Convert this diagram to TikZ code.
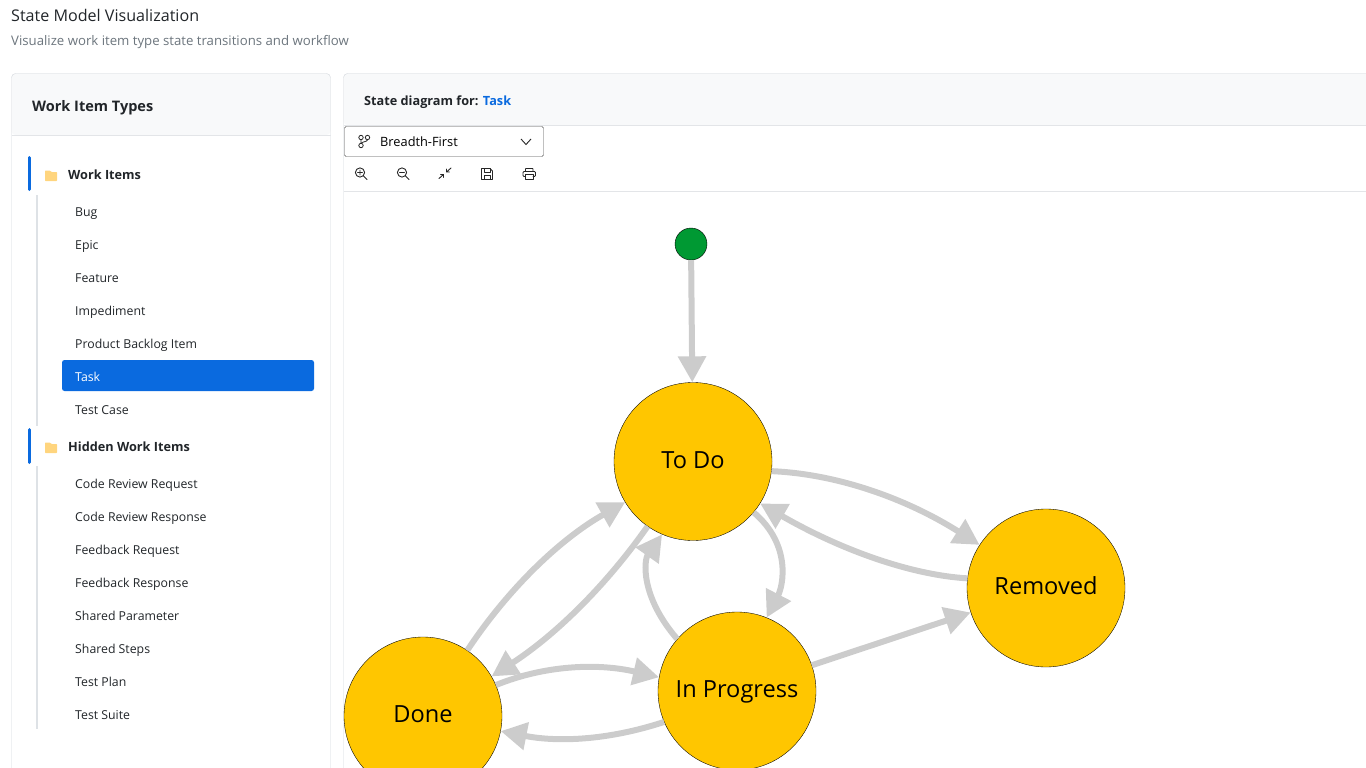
\documentclass[tikz,border=0pt]{standalone}
\usepackage{fontspec}
\setmainfont{Open Sans}
\usetikzlibrary{arrows.meta}
\definecolor{panelline}{HTML}{D3D7DC}
\definecolor{headbg}{HTML}{F8F9FA}
\definecolor{headline}{HTML}{E3E5E8}
\definecolor{accent}{HTML}{0A6ADF}
\definecolor{darktext}{HTML}{212529}
\definecolor{greytext}{HTML}{6C757D}
\definecolor{gold}{HTML}{FFC600}
\definecolor{startgreen}{HTML}{009933}
\definecolor{edgegrey}{HTML}{CCCCCC}
\definecolor{foldercol}{HTML}{FFD57E}
\definecolor{treeline}{HTML}{DEE2E6}
\tikzset{
  state/.style={circle,draw=black,line width=0.35pt,fill=gold,minimum size=158pt,inner sep=0pt,text=black,text height=18pt,text depth=5pt,font=\fontsize{23.6}{28}\selectfont},
  startdot/.style={circle,draw=black,line width=0.4pt,fill=startgreen,minimum size=32pt,inner sep=0pt},
  flow/.style={draw=edgegrey,line width=6pt,-{Triangle[length=26pt,width=27pt]}},
  item/.style={anchor=base west,inner sep=0pt,text=darktext,font=\fontsize{12.3}{14}\selectfont},
  group/.style={anchor=base west,inner sep=0pt,text=darktext,font=\fontsize{12.7}{14}\selectfont\bfseries},
  tool/.style={line width=0.9pt,draw=black!85,line cap=round,line join=round},
  folder/.style={fill=foldercol,draw=none},
  accentbar/.style={line width=3pt,draw=accent,line cap=round},
  tree/.style={line width=2pt,draw=treeline}
}
\begin{document}
\begin{tikzpicture}[x=1pt,y=-1pt]
\useasboundingbox (0,0) rectangle (1366,768);
\clip (0,0) rectangle (1366,768);
% page titles
\node[anchor=base west,inner sep=0pt,text=darktext,font=\fontsize{16.1}{18}\selectfont] (title) at (11,22) {State Model Visualization};
\node[anchor=base west,inner sep=0pt,text=greytext,font=\fontsize{13.2}{15}\selectfont] (subtitle) at (11,45.5) {Visualize work item type state transitions and workflow};
% left panel
\fill[headbg,rounded corners=4pt] (11.5,73.5) rectangle (330.5,135);
\draw[panelline,rounded corners=4pt] (11.5,790) -- (11.5,73.5) -- (330.5,73.5) -- (330.5,790);
\draw[headline] (11.5,135.5) -- (330.5,135.5);
\node[anchor=base west,inner sep=0pt,text=darktext,font=\fontsize{14.5}{18}\selectfont\bfseries] (wit) at (32,111) {Work Item Types};
% right panel
\fill[headbg,rounded corners=4pt] (343.5,73.5) rectangle (1380,125);
\draw[panelline,rounded corners=4pt] (343.5,790) -- (343.5,73.5) -- (1380,73.5);
\draw[headline] (343.5,125.5) -- (1366,125.5);
\draw[headline] (343.5,191.5) -- (1366,191.5);
\node[anchor=base west,inner sep=0pt,text=darktext,font=\fontsize{12.7}{14}\selectfont\bfseries] (sdf) at (364,105) {State diagram for: \textcolor{accent}{Task}};
% dropdown
\draw[draw=black!70,rounded corners=1.5pt,fill=white] (344.5,126.5) rectangle (543.5,156.5);
\node[anchor=base west,inner sep=0pt,text=black,font=\fontsize{12.8}{14}\selectfont] (algo) at (380,146) {Breadth-First};
\draw[black!85,line width=0.8pt] (361,145.5) circle (2.2) (367.5,137.5) circle (2.2) (361,137.5) circle (2.2);
\draw[black!85,line width=0.8pt] (361,139.7) -- (361,143.3) (367.5,139.7) .. controls (367.5,142) and (362,141.5) .. (361.5,143.3);
\draw[black!85,line width=0.9pt] (521,139) -- (526,144.5) -- (531,139);
% toolbar icons
\draw[tool] (360,172.5) circle (4.6) (363.5,176) -- (367,179.5) (357.5,172.5) -- (362.5,172.5) (360,170) -- (360,175);
\draw[tool] (402,172.5) circle (4.6) (405.5,176) -- (409,179.5) (399.5,172.5) -- (404.5,172.5);
\draw[tool] (439,178.5) -- (443.5,174.5) (443.5,174.5) -- (440.5,174.5) (443.5,174.5) -- (443.5,177.5);
\draw[tool] (451,168) -- (446.5,172) (446.5,172) -- (449.5,172) (446.5,172) -- (446.5,169);
\draw[tool] (481.5,168.5) -- (490,168.5) -- (492.5,171) -- (492.5,179.5) -- (481.5,179.5) -- cycle;
\draw[tool] (484,168.5) -- (484,172) -- (490,172) -- (490,168.5) (484,179.5) -- (484,175.5) -- (490,175.5) -- (490,179.5);
\draw[tool,rounded corners=1pt] (525.5,176.5) -- (523,176.5) -- (523,171.5) -- (535.5,171.5) -- (535.5,176.5) -- (533,176.5);
\draw[tool,rounded corners=0.5pt] (525.5,171.5) -- (525.5,168.5) -- (533,168.5) -- (533,171.5);
\draw[tool] (525.5,174.5) rectangle (533,179.5);
% tree decoration
\draw[accentbar] (29.5,157.5) -- (29.5,189.5);
\draw[accentbar] (29.5,429.5) -- (29.5,462.5);
\draw[tree] (37,195) -- (37,426);
\draw[tree] (37,466) -- (37,729);
\fill[folder,rounded corners=0.7pt] (45,170.5) -- (50,170.5) -- (51.5,172) -- (57,172) -- (57,181) -- (45,181) -- cycle;
\fill[folder,rounded corners=0.7pt] (45,442.5) -- (50,442.5) -- (51.5,444) -- (57,444) -- (57,453) -- (45,453) -- cycle;
\node[group] (g1) at (68,179) {Work Items};
\node[group] (g2) at (68,451) {Hidden Work Items};
\fill[accent,rounded corners=2.5pt] (62,360) rectangle (314,391);
\node[item] (i1) at (75,216) {Bug};
\node[item] (i2) at (75,249) {Epic};
\node[item] (i3) at (75,282) {Feature};
\node[item] (i4) at (75,315) {Impediment};
\node[item] (i5) at (75,348) {Product Backlog Item};
\node[item,text=white] (i6) at (75,381) {Task};
\node[item] (i7) at (75,414) {Test Case};
\node[item] (h1) at (75,488) {Code Review Request};
\node[item] (h2) at (75,521) {Code Review Response};
\node[item] (h3) at (75,554) {Feedback Request};
\node[item] (h4) at (75,587) {Feedback Response};
\node[item] (h5) at (75,620) {Shared Parameter};
\node[item] (h6) at (75,653) {Shared Steps};
\node[item] (h7) at (75,686) {Test Plan};
\node[item] (h8) at (75,719) {Test Suite};
% states
\node[startdot] (start) at (691,244) {};
\node[state] (todo) at (693,461.5) {To Do};
\node[state] (removed) at (1046,588) {Removed};
\node[state] (prog) at (737,691) {In Progress};
\node[state] (done) at (423,716) {Done};
% transitions
\draw[flow] (start) -- (todo);
\draw[flow] (todo.-7) .. controls (838,474) and (907,499) .. (removed.147);
\draw[flow] (removed.173) .. controls (911,575) and (841,550) .. (todo.-32.5);
\draw[flow] (todo.-40) .. controls (792,545) and (783,586) .. (prog.68);
\draw[flow] (prog.139) .. controls (640,596) and (644,560) .. (todo.-113);
\draw[flow] (done.56) .. controls (508,589) and (560,539) .. (todo.-149);
\draw[flow] (todo.-125) .. controls (605,587) and (554,636) .. (done.30);
\draw[flow] (done.23) .. controls (545,665) and (598,663) .. (prog.170);
\draw[flow] (prog.-157) .. controls (606,741) and (556,742) .. (done.-11);
\draw[flow] (prog.19) -- (removed.-162);
\end{tikzpicture}
\end{document}
